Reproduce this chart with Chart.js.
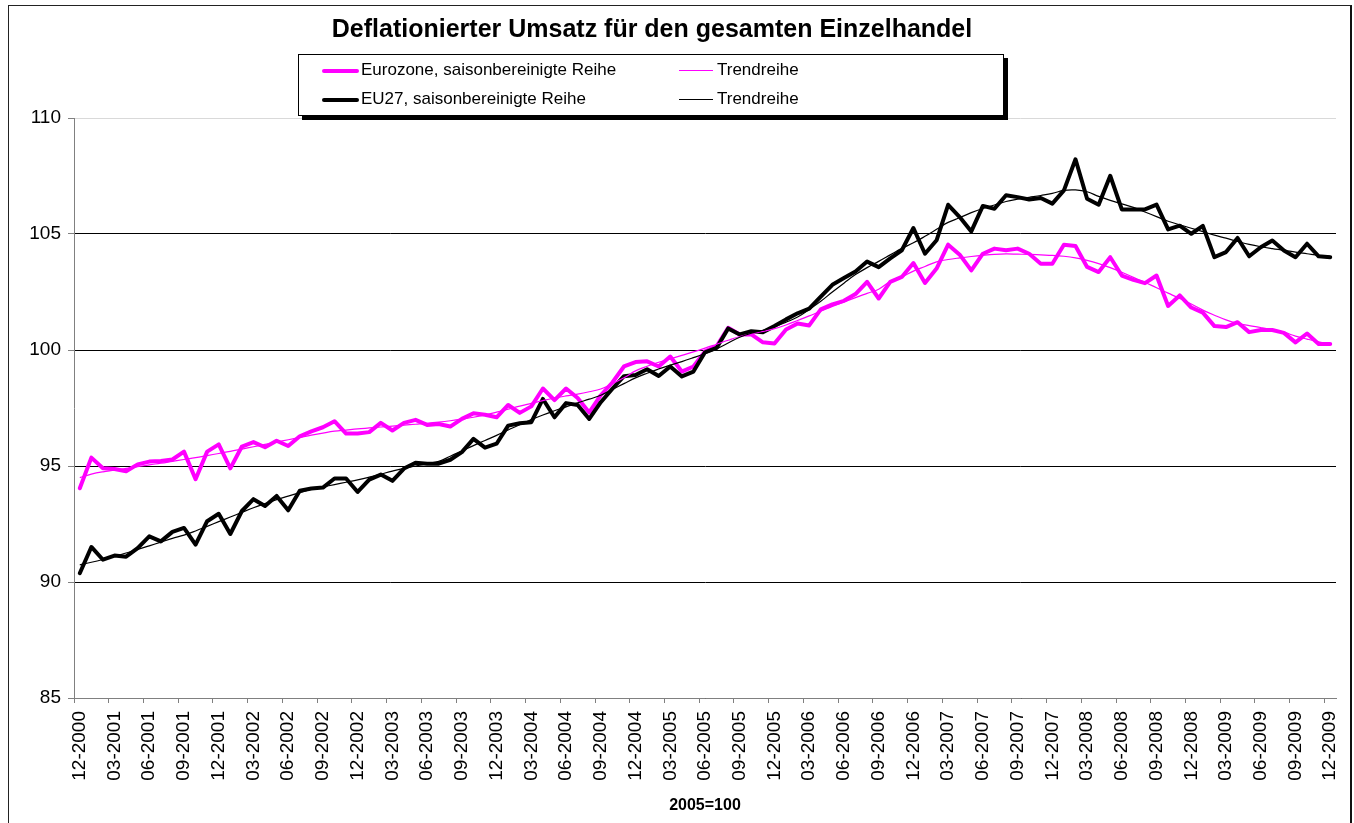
<!DOCTYPE html>
<html>
<head>
<meta charset="utf-8">
<script src="https://cdn.jsdelivr.net/npm/chart.js@4.4.1/dist/chart.umd.min.js"></script>
<style>
  html, body { margin: 0; padding: 0; background: #fff; }
  body { width: 1354px; height: 823px; position: relative; overflow: hidden; font-family: "Liberation Sans", Arial, sans-serif; }
  #frame { position: absolute; left: 8px; top: 5px; width: 1341px; height: 900px; border: 1px solid #222; border-right: 2px solid #111; }
  #chart { position: absolute; left: 0; top: 0; }
  .title { position: absolute; left: 0; width: 1304px; top: 14px; text-align: center; font-weight: bold; font-size: 25px; }
  .xtitle { position: absolute; left: 605px; width: 200px; top: 796px; text-align: center; font-weight: bold; font-size: 16px; }
  #legend { position: absolute; left: 298px; top: 54px; width: 704px; height: 60px; border: 1px solid #000; background: #fff; box-shadow: 4px 4px 0 #000; }
  .item { position: absolute; font-size: 17px; line-height: 20px; white-space: nowrap; }
  .swatch { position: absolute; }
</style>
</head>
<body>
<div id="frame"></div>
<canvas id="chart" width="1354" height="823"></canvas>
<div class="title">Deflationierter Umsatz für den gesamten Einzelhandel</div>
<div id="legend">
  <div class="swatch" style="left:23px; top:14px; width:37px; height:4px; background:#ff00ff; border-radius:2px;"></div>
  <div class="item" style="left:62px; top:5px;">Eurozone, saisonbereinigte Reihe</div>
  <div class="swatch" style="left:380px; top:15px; width:34px; height:1px; background:#ff00ff;"></div>
  <div class="item" style="left:418px; top:5px;">Trendreihe</div>
  <div class="swatch" style="left:23px; top:43px; width:37px; height:4px; background:#000; border-radius:2px;"></div>
  <div class="item" style="left:62px; top:34px;">EU27, saisonbereinigte Reihe</div>
  <div class="swatch" style="left:380px; top:44px; width:34px; height:1px; background:#000;"></div>
  <div class="item" style="left:418px; top:34px;">Trendreihe</div>
</div>
<div class="xtitle">2005=100</div>
<script>
// Monate 12-2000 bis 12-2009
const months = [];
for (let y = 2000; y <= 2009; y++) {
  for (let m = 1; m <= 12; m++) {
    if (y === 2000 && m < 12) continue;
    months.push(String(m).padStart(2, '0') + '-' + y);
  }
}

const eurozone = [
  94.04, 95.36, 94.90, 94.87, 94.77, 95.07, 95.19, 95.22, 95.28, 95.62,
  94.43, 95.62, 95.93, 94.90, 95.84, 96.03, 95.81, 96.09, 95.86, 96.28,
  96.49, 96.67, 96.93, 96.40, 96.40, 96.46, 96.86, 96.53, 96.86, 96.99,
  96.77, 96.81, 96.70, 97.03, 97.27, 97.21, 97.10, 97.63, 97.29, 97.57,
  98.34, 97.84, 98.34, 97.93, 97.31, 98.05, 98.60, 99.29, 99.48, 99.51,
  99.29, 99.72, 99.07, 99.29, 99.94, 100.16, 100.96, 100.67, 100.67, 100.33,
  100.28, 100.88, 101.14, 101.06, 101.75, 101.97, 102.12, 102.41, 102.94, 102.22,
  102.94, 103.15, 103.75, 102.89, 103.51, 104.54, 104.11, 103.43, 104.15, 104.37,
  104.30, 104.37, 104.15, 103.72, 103.72, 104.54, 104.48, 103.58, 103.36, 104.00,
  103.21, 103.02, 102.88, 103.21, 101.90, 102.35, 101.83, 101.61, 101.03, 100.99,
  101.20, 100.77, 100.86, 100.86, 100.74, 100.33, 100.71, 100.26, 100.26
];

const eurozoneTrend = [
  94.50, 94.65, 94.75, 94.82, 94.90, 94.97, 95.05, 95.12, 95.20, 95.28,
  95.36, 95.45, 95.54, 95.63, 95.73, 95.83, 95.93, 96.03, 96.13, 96.23,
  96.33, 96.42, 96.50, 96.55, 96.60, 96.64, 96.68, 96.72, 96.76, 96.80,
  96.84, 96.89, 96.95, 97.02, 97.10, 97.20, 97.32, 97.45, 97.58, 97.70,
  97.82, 97.93, 98.02, 98.10, 98.20, 98.32, 98.55, 98.80, 99.10, 99.30,
  99.47, 99.62, 99.77, 99.92, 100.08, 100.25, 100.42, 100.58, 100.70, 100.80,
  100.92, 101.08, 101.27, 101.47, 101.67, 101.88, 102.07, 102.26, 102.44, 102.62,
  102.95, 103.15, 103.40, 103.60, 103.80, 103.90, 103.97, 104.03, 104.08, 104.12,
  104.14, 104.13, 104.12, 104.10, 104.08, 104.04, 103.97, 103.86, 103.72, 103.55,
  103.35, 103.13, 102.92, 102.68, 102.45, 102.22, 101.98, 101.72, 101.50, 101.30,
  101.15, 101.05, 100.97, 100.88, 100.77, 100.60, 100.47, 100.35, 100.25
];

const eu27 = [
  90.38, 91.51, 90.96, 91.14, 91.09, 91.46, 91.97, 91.75, 92.16, 92.33,
  91.61, 92.62, 92.94, 92.07, 93.06, 93.57, 93.28, 93.71, 93.09, 93.93,
  94.03, 94.07, 94.46, 94.46, 93.88, 94.41, 94.63, 94.36, 94.89, 95.14,
  95.10, 95.10, 95.27, 95.60, 96.17, 95.79, 95.96, 96.74, 96.84, 96.89,
  97.89, 97.10, 97.71, 97.63, 97.03, 97.75, 98.33, 98.87, 98.92, 99.17,
  98.88, 99.29, 98.86, 99.07, 99.90, 100.09, 100.93, 100.67, 100.81, 100.77,
  101.03, 101.32, 101.58, 101.78, 102.30, 102.81, 103.10, 103.38, 103.81, 103.57,
  103.95, 104.30, 105.26, 104.15, 104.73, 106.26, 105.73, 105.11, 106.21, 106.09,
  106.67, 106.59, 106.49, 106.55, 106.31, 106.88, 108.22, 106.52, 106.26, 107.51,
  106.06, 106.06, 106.06, 106.27, 105.20, 105.36, 105.01, 105.35, 104.00, 104.22,
  104.83, 104.04, 104.43, 104.72, 104.29, 104.00, 104.58, 104.04, 104.00
];

const eu27Trend = [
  90.74, 90.85, 90.97, 91.10, 91.25, 91.40, 91.56, 91.72, 91.88, 92.02,
  92.20, 92.40, 92.60, 92.80, 93.00, 93.20, 93.38, 93.55, 93.70, 93.85,
  94.00, 94.10, 94.20, 94.30, 94.40, 94.52, 94.65, 94.78, 94.90, 95.00,
  95.10, 95.20, 95.42, 95.65, 95.88, 96.10, 96.32, 96.55, 96.78, 97.00,
  97.20, 97.38, 97.55, 97.72, 97.88, 98.05, 98.30, 98.55, 98.80, 99.00,
  99.18, 99.35, 99.50, 99.67, 99.85, 100.05, 100.30, 100.55, 100.72, 100.85,
  101.00, 101.20, 101.42, 101.75, 102.10, 102.50, 102.88, 103.25, 103.55, 103.82,
  104.10, 104.38, 104.62, 104.90, 105.20, 105.50, 105.70, 105.92, 106.10, 106.25,
  106.40, 106.50, 106.58, 106.66, 106.75, 106.88, 106.90, 106.82, 106.62, 106.45,
  106.30, 106.15, 105.95, 105.75, 105.55, 105.40, 105.25, 105.10, 104.95, 104.82,
  104.68, 104.55, 104.45, 104.37, 104.30, 104.22, 104.15, 104.08, 104.04
];

const yTicks = [85, 90, 95, 100, 105, 110];

Chart.defaults.font.family = '"Liberation Sans", Arial, sans-serif';
Chart.defaults.color = '#000';

const lineBase = { pointRadius: 0, pointHoverRadius: 0, fill: false };

new Chart(document.getElementById('chart'), {
  type: 'line',
  data: {
    labels: months,
    datasets: [
      { ...lineBase, label: 'EU27 Trendreihe', data: eu27Trend, borderColor: '#000', borderWidth: 1.2, tension: 0.4, order: 0 },
      { ...lineBase, label: 'Eurozone Trendreihe', data: eurozoneTrend, borderColor: '#ff00ff', borderWidth: 1.2, tension: 0.4, order: 1 },
      { ...lineBase, label: 'EU27, saisonbereinigte Reihe', data: eu27, borderColor: '#000', borderWidth: 4, tension: 0, order: 2, borderJoinStyle: 'round', borderCapStyle: 'round' },
      { ...lineBase, label: 'Eurozone, saisonbereinigte Reihe', data: eurozone, borderColor: '#ff00ff', borderWidth: 4, tension: 0, order: 3, borderJoinStyle: 'round', borderCapStyle: 'round' }
    ]
  },
  options: {
    responsive: false,
    animation: false,
    devicePixelRatio: 1,
    layout: { padding: { left: 0, top: 118, right: 18, bottom: 0 } },
    plugins: { legend: { display: false }, tooltip: { enabled: false }, title: { display: false } },
    scales: {
      x: {
        type: 'category',
        offset: true,
        afterFit: function(scale) {
          scale.height = 125;
          scale.paddingLeft = 0;
          scale.paddingRight = 0;
        },
        grid: {
          offset: true,
          drawOnChartArea: false,
          tickLength: 5,
          tickColor: function(ctx) { return (ctx.index !== undefined && ctx.index % 3 === 0) ? '#808080' : 'rgba(0,0,0,0)'; }
        },
        border: { color: '#808080', width: 1 },
        ticks: {
          autoSkip: false,
          maxRotation: 90,
          minRotation: 90,
          padding: 8,
          font: { size: 19 },
          callback: function(val, i) { return i % 3 === 0 ? months[i] : ''; }
        }
      },
      y: {
        min: 85,
        max: 110,
        afterFit: function(scale) { scale.width = 74; },
        afterBuildTicks: function(scale) { scale.ticks = yTicks.map(v => ({ value: v })); },
        grid: {
          color: function(ctx) { return ctx.tick && ctx.tick.value === 110 ? '#d9d9d9' : '#000'; },
          tickColor: '#808080',
          tickLength: 6,
          lineWidth: 1
        },
        border: { color: '#808080', width: 1 },
        ticks: { padding: 7, font: { size: 19 } }
      }
    }
  }
});
</script>
</body>
</html>
